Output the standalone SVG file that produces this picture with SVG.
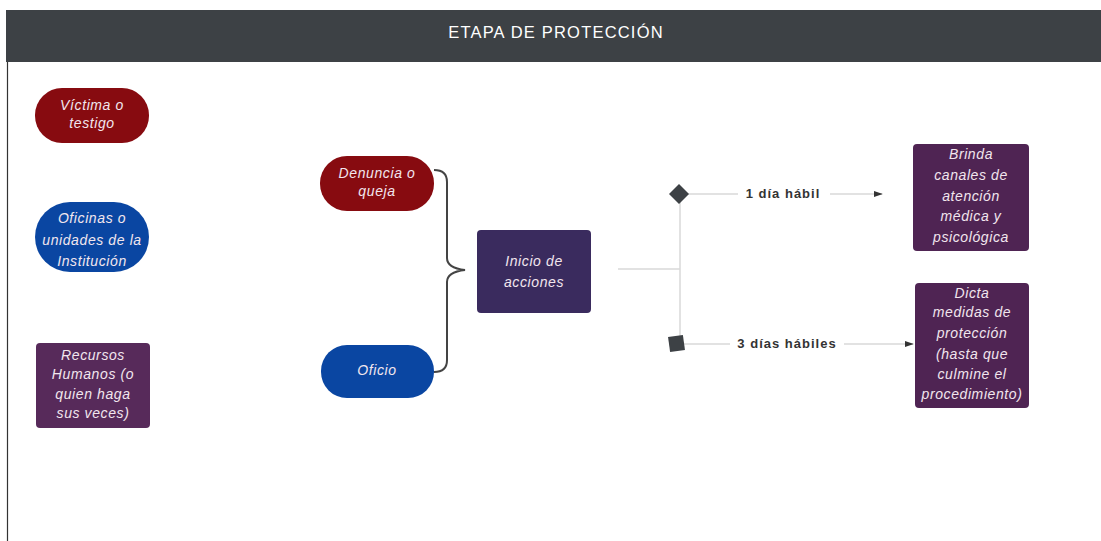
<svg xmlns="http://www.w3.org/2000/svg" width="1101" height="541" viewBox="0 0 1101 541">
<defs>
<style>
.t{font-family:"Liberation Sans",Arial,sans-serif;font-style:italic;font-size:14px;letter-spacing:0.6px;fill:#f2e6ee;text-anchor:middle}
.lbl{font-family:"Liberation Sans",Arial,sans-serif;font-weight:bold;font-size:13px;letter-spacing:1px;fill:#333;text-anchor:middle}
.red{fill:#870b10}
.blue{fill:#0a46a2}
.purple{fill:#572a5a}
.indigo{fill:#3a2b5e}
.conn{stroke:#d9d9d9;stroke-width:1.5;fill:none}
</style>
<marker id="arr" viewBox="0 0 10 10" refX="9" refY="5" markerWidth="9" markerHeight="9" markerUnits="userSpaceOnUse" orient="auto">
<path d="M0,1.5 L10,5 L0,8.5 Z" fill="#333"/>
</marker>
</defs>
<rect width="1101" height="541" fill="#fff"/>
<g id="header">
<rect x="6" y="10" width="1095" height="52" fill="#3d4145"/>
<text x="556" y="38" font-family="'Liberation Sans',Arial,sans-serif" font-size="16.5" letter-spacing="1.2" fill="#fff" text-anchor="middle">ETAPA DE PROTECCIÓN</text>
</g>
<line x1="7.5" y1="62" x2="7.5" y2="541" stroke="#333" stroke-width="1.2"/>
<g id="connectors">
<path class="conn" d="M618,269 H680"/>
<path class="conn" d="M680,194 V343"/>
<path class="conn" d="M686,194 H882" marker-end="url(#arr)"/>
<path class="conn" d="M684,344 H913" marker-end="url(#arr)"/>
<rect x="738" y="184" width="92" height="20" fill="#fff"/>
<rect x="730" y="334" width="114" height="20" fill="#fff"/>
<text class="lbl" x="783" y="198">1 día hábil</text>
<text class="lbl" x="787" y="348">3 días hábiles</text>
<path d="M679,184 L689,194 L679,204 L669,194 Z" fill="#3d4145"/>
<rect x="669" y="336" width="15" height="15" fill="#3d4145" transform="rotate(-8 676.5 343.5)"/>
<path d="M434,170 Q447,170 447,182 V258 Q447,268 465,270 Q447,272 447,282 V360 Q447,372 434,372" fill="none" stroke="#444" stroke-width="2"/>
</g>
<g id="victima">
<rect class="red" x="35" y="88" width="114" height="55" rx="27"/>
<text class="t" x="92" y="110">Víctima o</text>
<text class="t" x="92" y="128">testigo</text>
</g>
<g id="oficinas">
<rect class="blue" x="35" y="202" width="114" height="70" rx="35"/>
<text class="t" x="92" y="223">Oficinas o</text>
<text class="t" x="92" y="245">unidades de la</text>
<text class="t" x="92" y="266">Institución</text>
</g>
<g id="recursos">
<rect class="purple" x="36" y="343" width="114" height="85" rx="4"/>
<text class="t" x="93" y="360">Recursos</text>
<text class="t" x="93" y="379">Humanos (o</text>
<text class="t" x="93" y="399">quien haga</text>
<text class="t" x="93" y="418">sus veces)</text>
</g>
<g id="denuncia">
<rect class="red" x="320" y="156" width="114" height="55" rx="27"/>
<text class="t" x="377" y="178">Denuncia o</text>
<text class="t" x="377" y="196">queja</text>
</g>
<g id="oficio">
<rect class="blue" x="321" y="345" width="113" height="53" rx="26"/>
<text class="t" x="377" y="375">Oficio</text>
</g>
<g id="inicio">
<rect class="indigo" x="477" y="230" width="114" height="83" rx="4"/>
<text class="t" x="534" y="266">Inicio de</text>
<text class="t" x="534" y="287">acciones</text>
</g>
<g id="brinda">
<rect class="purple" x="913" y="144" width="116" height="107" rx="4" style="fill:#4f2453"/>
<text class="t" x="971" y="159">Brinda</text>
<text class="t" x="971" y="180">canales de</text>
<text class="t" x="971" y="201">atención</text>
<text class="t" x="971" y="221">médica y</text>
<text class="t" x="971" y="242">psicológica</text>
</g>
<g id="dicta">
<rect class="purple" x="915" y="283" width="114" height="125" rx="4" style="fill:#4f2453"/>
<text class="t" x="972" y="298">Dicta</text>
<text class="t" x="972" y="317">medidas de</text>
<text class="t" x="972" y="338">protección</text>
<text class="t" x="972" y="359">(hasta que</text>
<text class="t" x="972" y="379">culmine el</text>
<text class="t" x="972" y="399">procedimiento)</text>
</g>
</svg>
